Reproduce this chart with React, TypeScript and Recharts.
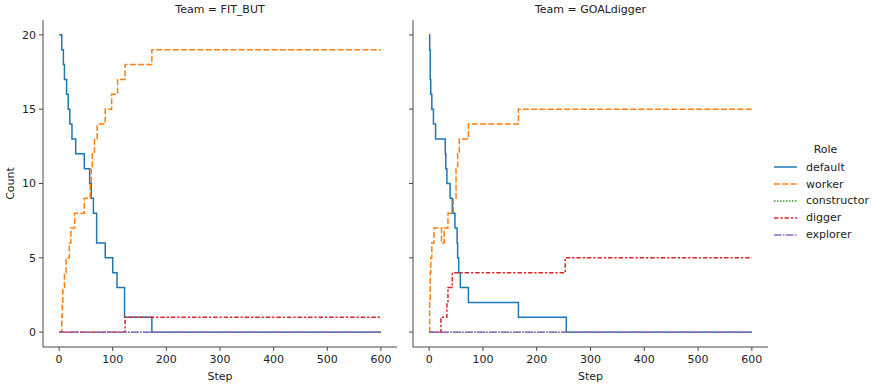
import React from 'react'
import { LineChart, Line, XAxis, YAxis } from 'recharts'

// [step, count] change points for each role, drawn as step-after lines
const fitDefault = [[0, 20], [5, 19], [8, 18], [10, 17], [14, 16], [17, 15], [20, 14], [24, 13], [31, 12], [47, 11], [57, 10], [60, 9], [64, 8], [70, 6], [86, 5], [100, 4], [108, 3], [122, 1], [173, 0], [600, 0]]
const fitWorker = [[0, 0], [5, 1], [6, 2], [7, 3], [10, 4], [13, 5], [19, 6], [22, 7], [29, 8], [47, 9], [58, 10], [60, 11], [62, 12], [66, 13], [71, 14], [86, 15], [98, 16], [109, 17], [123, 18], [173, 19], [600, 19]]
const fitConstructor = [[0, 0], [600, 0]]
const fitDigger = [[0, 0], [123, 1], [600, 1]]
const fitExplorer = [[0, 0], [600, 0]]

const goalDefault = [[0, 20], [1, 19], [2, 17], [3, 16], [5, 15], [8, 14], [12, 13], [30, 12], [31, 11], [33, 10], [39, 9], [43, 8], [48, 7], [52, 6], [53, 5], [55, 4], [58, 3], [73, 2], [166, 1], [255, 0], [600, 0]]
const goalWorker = [[0, 0], [1, 2], [2, 4], [3, 5], [5, 6], [9, 7], [23, 6], [28, 7], [35, 8], [45, 9], [50, 11], [53, 12], [56, 13], [73, 14], [166, 15], [600, 15]]
const goalConstructor = [[0, 0], [600, 0]]
const goalDigger = [[0, 0], [22, 1], [33, 2], [35, 3], [43, 4], [253, 5], [600, 5]]
const goalExplorer = [[0, 0], [600, 0]]

const roles = ['default', 'worker', 'constructor', 'digger', 'explorer']
const stepTicks = [0, 100, 200, 300, 400, 500, 600]
const countTicks = [0, 5, 10, 15, 20]

const styles: Record<string, { color: string; dash?: string }> = {
    default: { color: '#1f77b4' },
    worker: { color: '#ff7f0e', dash: '6 2.25' },
    constructor: { color: '#2ca02c', dash: '1.5 1.5' },
    digger: { color: '#d62728', dash: '4.5 1.9 2.25 1.9' },
    explorer: { color: '#9467bd', dash: '7.5 1.5 1.5 1.5' },
}

const FONT = '"DejaVu Sans", sans-serif'
const INK = '#222'
const toPoints = (pairs: number[][]) => pairs.map(([step, count]) => ({ step, count }))

const CountLabel = ({ viewBox }: any) => {
    const cy = viewBox.y + viewBox.height / 2
    return (
        <text x={10} y={cy} transform={`rotate(-90, 10, ${cy})`} textAnchor='middle'
            dominantBaseline='central' fontSize={11} fontFamily={FONT} fill={INK}>
            Count
        </text>
    )
}

interface PanelProps {
    title: string
    series: number[][][]
    left: number
    width: number
    yWidth: number
    right: number
    showCountLabels: boolean
}

const Panel: React.FC<PanelProps> = ({ title, series, left, width, yWidth, right, showCountLabels }) => {
    const plotLeft = left + yWidth
    const plotWidth = width - yWidth - right
    return (
        <>
            <div style={{
                position: 'absolute', left: plotLeft, top: 3, width: plotWidth, textAlign: 'center',
                fontSize: 11, fontFamily: FONT, color: INK,
            }}>
                {title}
            </div>
            <div style={{ position: 'absolute', left, top: 0 }}>
                <LineChart width={width} height={387} margin={{ top: 20, right, left: 0, bottom: 0 }}>
                    <XAxis
                        dataKey='step'
                        type='number'
                        domain={[-30, 630]}
                        ticks={stepTicks}
                        allowDataOverflow
                        height={40}
                        tickSize={4}
                        tickMargin={4}
                        stroke='#333'
                        strokeWidth={0.9}
                        tick={{ fontSize: 11, fontFamily: FONT, fill: INK }}
                        label={{ value: 'Step', position: 'insideBottom', offset: 7, fontSize: 11, fontFamily: FONT, fill: INK }}
                    />
                    <YAxis
                        type='number'
                        domain={[-1, 21]}
                        ticks={countTicks}
                        allowDataOverflow
                        width={yWidth}
                        tickSize={4}
                        tickMargin={3}
                        stroke='#333'
                        strokeWidth={0.9}
                        tick={{ fontSize: 11, fontFamily: FONT, fill: INK }}
                        tickFormatter={v => (showCountLabels ? String(v) : '')}
                        label={showCountLabels ? { content: CountLabel } : undefined}
                    />
                    {roles.map((role, i) => (
                        <Line
                            key={role}
                            data={toPoints(series[i])}
                            dataKey='count'
                            type='stepAfter'
                            stroke={styles[role].color}
                            strokeWidth={1.5}
                            strokeDasharray={styles[role].dash}
                            dot={false}
                            activeDot={false}
                            isAnimationActive={false}
                        />
                    ))}
                </LineChart>
            </div>
        </>
    )
}

const RoleLegend = () => (
    <div style={{ position: 'absolute', left: 772, top: 143, fontSize: 11, fontFamily: FONT, color: INK }}>
        <div style={{ width: 95, textAlign: 'center', paddingLeft: 6, height: 16 }}>Role</div>
        {roles.map(role => (
            <div key={role} style={{ display: 'flex', alignItems: 'center', height: 16.8 }}>
                <svg width={28} height={10}>
                    <line x1={2} y1={5} x2={25} y2={5} stroke={styles[role].color} strokeWidth={1.5}
                        strokeDasharray={styles[role].dash} />
                </svg>
                <span style={{ marginLeft: 6 }}>{role}</span>
            </div>
        ))}
    </div>
)

export default function App() {
    return (
        <div style={{ position: 'absolute', left: 0, top: 0, width: 876, height: 387, background: '#fff' }}>
            <Panel title='Team = FIT_BUT'
                series={[fitDefault, fitWorker, fitConstructor, fitDigger, fitExplorer]}
                left={0} width={400} yWidth={43} right={3} showCountLabels />
            <Panel title='Team = GOALdigger'
                series={[goalDefault, goalWorker, goalConstructor, goalDigger, goalExplorer]}
                left={400} width={376} yWidth={13} right={8} showCountLabels={false} />
            <RoleLegend />
        </div>
    )
}
